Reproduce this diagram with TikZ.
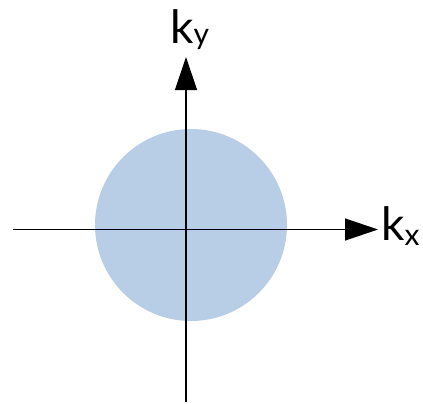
\documentclass[tikz,border=0pt]{standalone}
\usepackage{fontspec}
\setmainfont{Lato}
\usepackage{tikz}
\usetikzlibrary{arrows.meta, positioning}
\definecolor{kdisk}{HTML}{B8CEE7}

\begin{document}
\begin{tikzpicture}[
      x=1pt, y=-1pt,
      every node/.style={font=\fontsize{46}{50}\selectfont, inner sep=0pt},
      axis/.style={-{Triangle[length=33pt, width=22pt]}, line width=1.3pt}
    ]
    \useasboundingbox (0,0) rectangle (423,404);

    \fill[kdisk] (191,225) circle[radius=96];

    \coordinate (xstart) at (13,229.5);
    \coordinate (xend)   at (378,229.5);
    \coordinate (ystart) at (186,402);
    \coordinate (yend)   at (186,57);

    \draw[axis] (xstart) -- (xend);
    \draw[axis] (ystart) -- (yend);

    \node[anchor=base west] (kx) at (381,240)
      {k\raisebox{-5pt}{\fontsize{30}{30}\selectfont x}};
    \node[anchor=base west] (ky) at (170,44)
      {k\raisebox{-1pt}{\fontsize{30}{30}\selectfont y}};
  \end{tikzpicture}
\end{document}
